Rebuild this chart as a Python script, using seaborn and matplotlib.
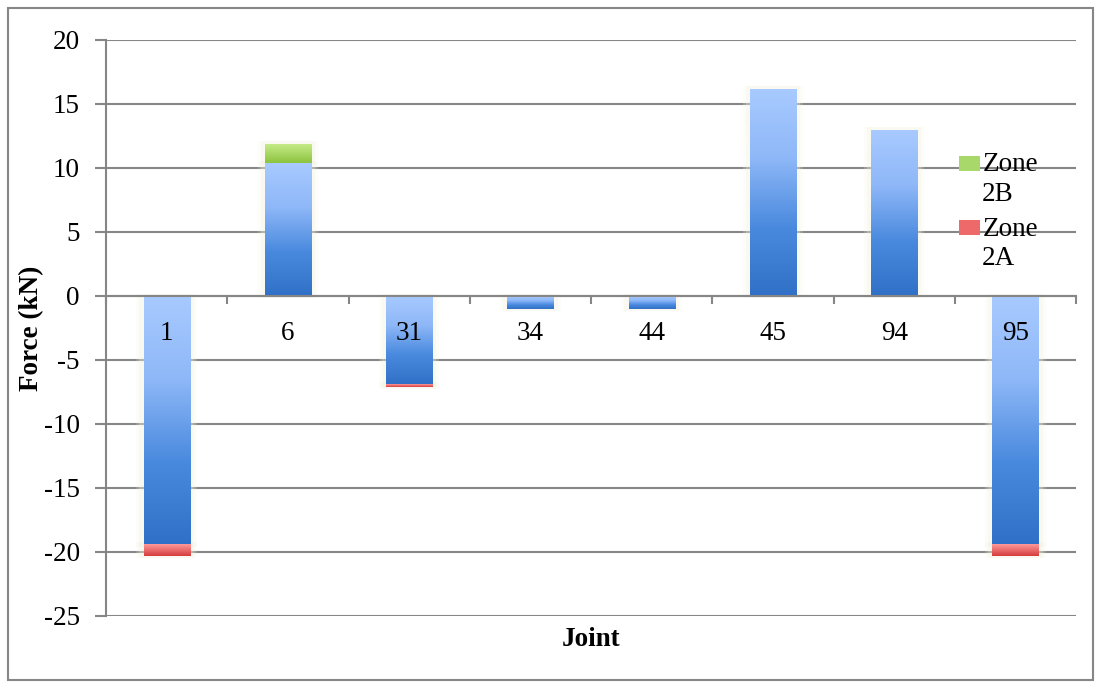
import numpy as np
import pandas as pd
import matplotlib
matplotlib.use("Agg")
import matplotlib.pyplot as plt
import seaborn as sns
from matplotlib.colors import LinearSegmentedColormap
from matplotlib.patches import Rectangle, Patch
from matplotlib.legend_handler import HandlerPatch

# Joint forces (kN)
joints = ["1", "6", "31", "34", "44", "45", "94", "95"]
base_force = [-19.4, 10.4, -6.9, -1.0, -1.0, 16.2, 13.0, -19.4]
zone_2b = [0.0, 1.5, 0.0, 0.0, 0.0, 0.0, 0.0, 0.0]
zone_2a = [-0.9, 0.0, -0.2, 0.0, 0.0, 0.0, 0.0, -0.9]
y_ticks = [20, 15, 10, 5, 0, -5, -10, -15, -20, -25]

sns.set_theme(style="white")
plt.rcParams["font.family"] = ["Liberation Serif", "DejaVu Serif"]
plt.rcParams["axes.unicode_minus"] = False
plt.rcParams["text.color"] = "black"
plt.rcParams["axes.labelcolor"] = "black"

GRID = "#868686"
FS = 19.5
fig = plt.figure(figsize=(11.01, 6.88), dpi=100)
ax = fig.add_axes([0.0963, 0.1047, 0.881, 0.8372])

df = pd.DataFrame({"joint": joints, "force": base_force})
sns.barplot(data=df, x="joint", y="force", order=joints, width=0.38,
            color="#4a8ad8", ax=ax, zorder=3)
n_base = len(ax.patches)

x = np.arange(len(joints))
ax.bar(x, zone_2b, width=0.38, bottom=[max(b, 0) for b in base_force],
       color="#9ccf55", zorder=3)
ax.bar(x, zone_2a, width=0.38, bottom=[min(b, 0) for b in base_force],
       color="#e04848", zorder=3)

ramps = {
    "blue": LinearSegmentedColormap.from_list("b", ["#3070c6", "#4a8ade", "#8fb8f8", "#a8caff"]),
    "green": LinearSegmentedColormap.from_list("g", ["#8cc43e", "#c8ec8c"]),
    "red": LinearSegmentedColormap.from_list("r", ["#d63c3c", "#ff9a9a"]),
}
grad = np.linspace(0, 1, 256).reshape(-1, 1)

patches = list(ax.patches)
for i, p in enumerate(patches):
    h = p.get_height()
    if abs(h) < 1e-9:
        p.set_visible(False)
        continue
    if i < n_base:
        cmap = ramps["blue"]
    elif i < n_base + len(joints):
        cmap = ramps["green"]
    else:
        cmap = ramps["red"]
    x0 = p.get_x()
    w = p.get_width()
    y0 = p.get_y()
    lo, hi = min(y0, y0 + h), max(y0, y0 + h)
    # soft halo behind each bar
    for k, a in [(0.06, 0.2), (0.035, 0.28)]:
        ax.add_patch(Rectangle((x0 - k, lo - 0.18), w + 2 * k, hi - lo + 0.36,
                               color="#f3f1e0", alpha=a, lw=0, zorder=2))
    im = ax.imshow(grad, cmap=cmap, origin="lower", aspect="auto",
                   extent=[x0, x0 + w, lo, hi], zorder=3, interpolation="bilinear")
    im.set_clip_path(p)
    p.set_facecolor("none")
    p.set_edgecolor("none")

ax.set_xlim(-0.5, len(joints) - 0.5)
ax.set_ylim(-25, 20)
ax.set_yticks(y_ticks)
ax.yaxis.grid(True, color=GRID, linewidth=1.5, zorder=0)
ax.set_axisbelow(True)

for s in ["top", "right"]:
    ax.spines[s].set_visible(False)
ax.spines["left"].set_color(GRID)
ax.spines["left"].set_linewidth(1.5)
ax.spines["bottom"].set_position(("data", 0))
ax.spines["bottom"].set_color(GRID)
ax.spines["bottom"].set_linewidth(1.5)
ax.spines["bottom"].set_zorder(4)

ax.tick_params(axis="y", length=8, width=1.5, color=GRID, labelsize=FS,
               labelcolor="black", pad=11, left=True)
ax.set_xticks(x)
ax.set_xticklabels(joints)
ax.set_xticks(np.arange(-0.5, len(joints)), minor=True)
ax.tick_params(axis="x", which="major", length=0, pad=18, labelsize=FS,
               labelcolor="black")
ax.tick_params(axis="x", which="minor", length=6, width=1.5, color=GRID,
               direction="out", bottom=True)
# joint labels sit on top of the bars
ax.xaxis.set_zorder(6)

ax.set_xlabel("")
ax.set_ylabel("Force (kN)", fontsize=FS, fontweight="bold", color="black")
ax.yaxis.set_label_coords(-0.064, 0.5)
fig.text(0.537, 0.071, "Joint", fontsize=FS, fontweight="bold",
         ha="center", va="center", color="black")


def top_aligned_swatch(legend, orig_handle, xdescent, ydescent, width, height, fontsize):
    # raise the swatch so it lines up with the first line of a two-line label
    return Rectangle((-xdescent + 0.2 * fontsize, -ydescent + 0.66 * fontsize),
                     width, height * 0.85)


handles = [Patch(facecolor="#a8d86a", edgecolor="none"),
           Patch(facecolor="#ee6a6a", edgecolor="none")]
leg = ax.legend(handles, ["Zone\n2B", "Zone\n2A"], loc="upper left",
                bbox_to_anchor=(0.874, 0.805), frameon=False, fontsize=FS,
                handlelength=0.75, handleheight=0.62, handletextpad=0.3,
                labelspacing=0.35, borderaxespad=0, borderpad=0,
                handler_map={Patch: HandlerPatch(patch_func=top_aligned_swatch)})
for t in leg.get_texts():
    t.set_linespacing(1.25)
    t.set_color("black")

fig.patches.append(Rectangle((0.007, 0.012), 0.986, 0.977, transform=fig.transFigure,
                             fill=False, edgecolor=GRID, linewidth=1.5))

fig.savefig("out.png", dpi=100)
